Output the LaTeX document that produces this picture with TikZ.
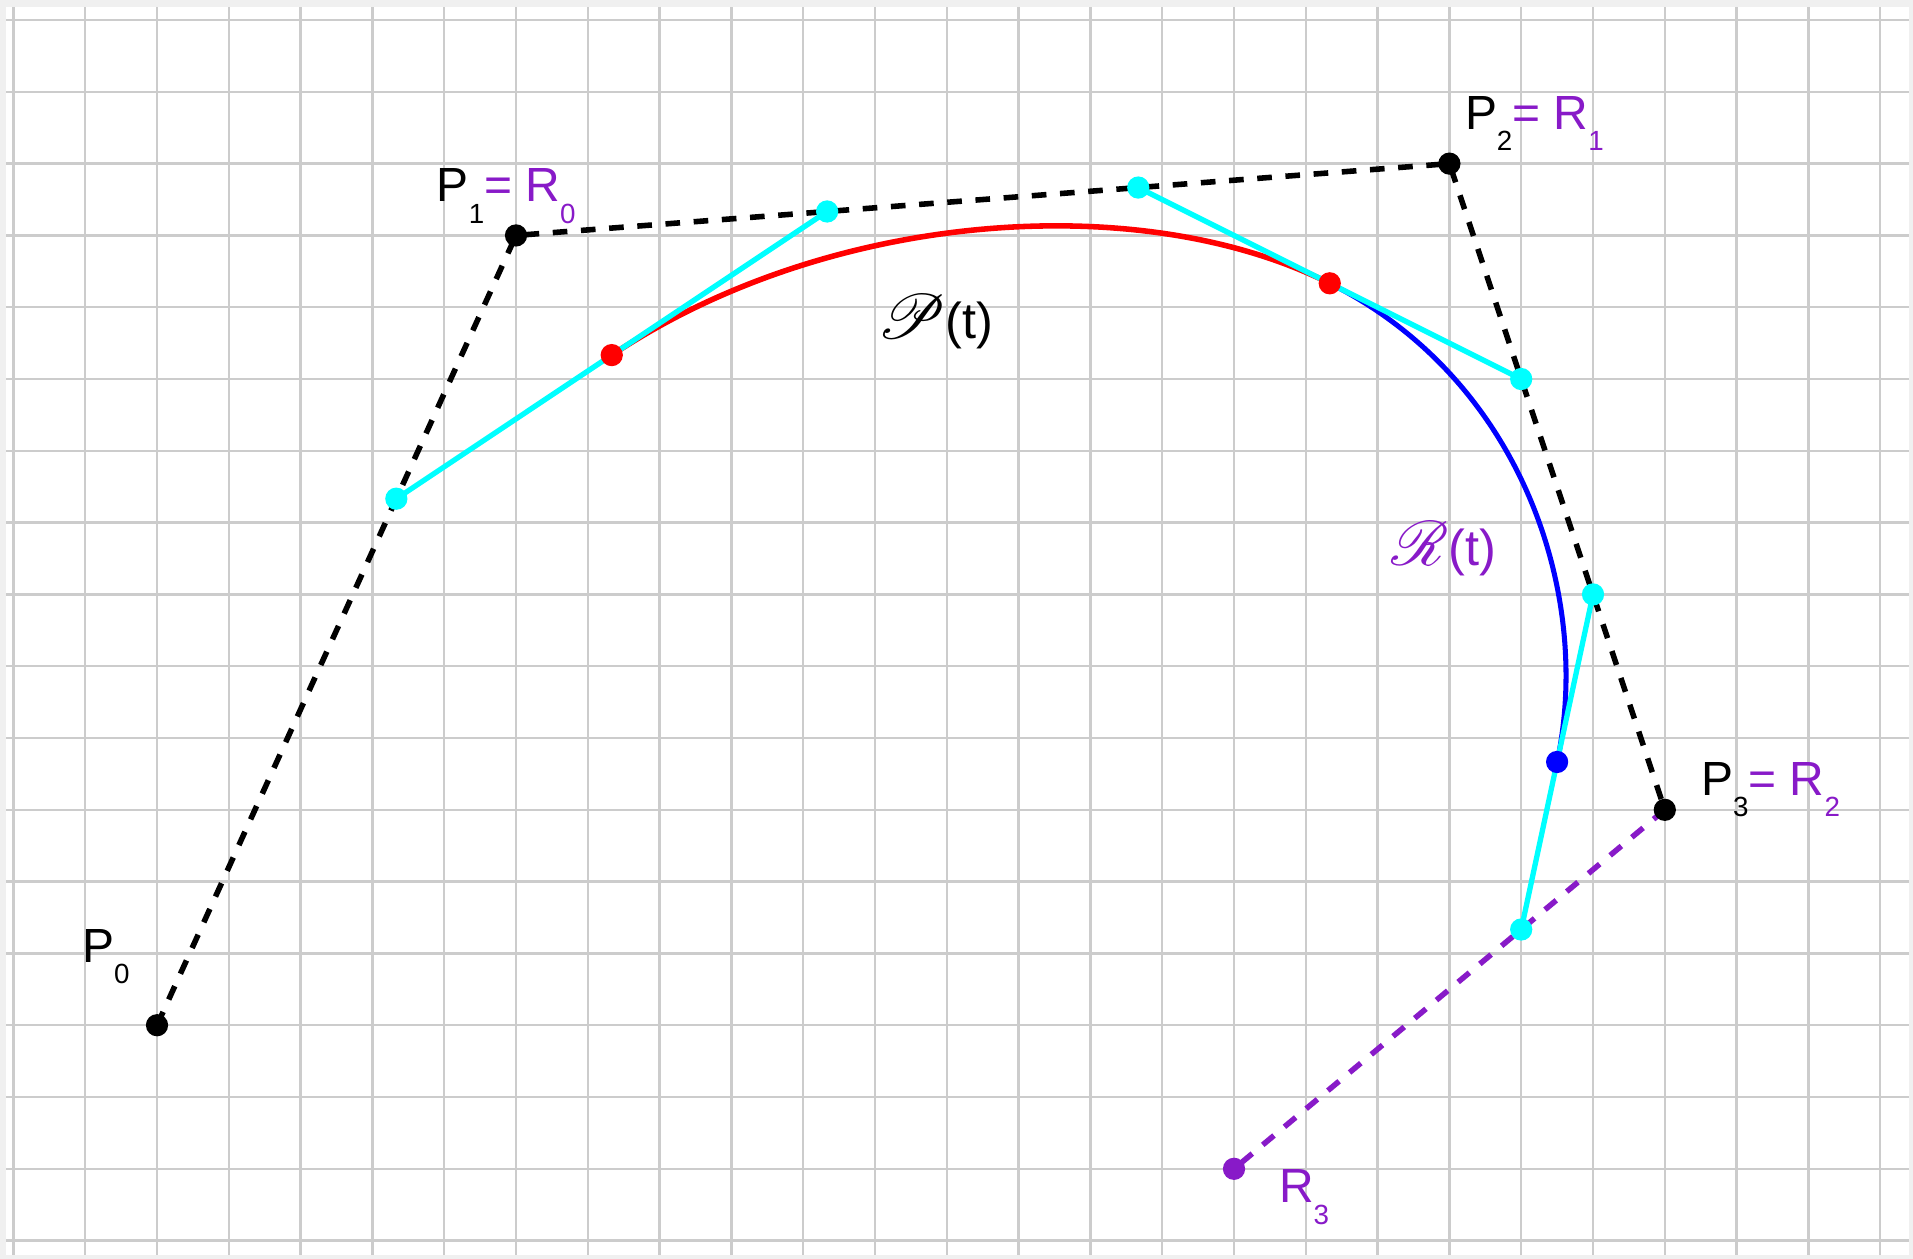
\documentclass[tikz,border=0pt]{standalone}
\usepackage{fontspec}
\setmainfont{Liberation Sans}
\usepackage{mathrsfs}
\usetikzlibrary{calc}
\definecolor{rpurple}{RGB}{136,26,200}
\definecolor{auxcyan}{RGB}{0,255,255}
\newcommand{\lowsub}[1]{\raisebox{-8.5pt}{\fontsize{11}{11}\selectfont #1}}
\newcommand{\bigscr}[1]{{\fontsize{26}{26}\selectfont$\mathscr{#1}$}}

\begin{document}
\begin{tikzpicture}[
    x=1cm,
    y=-1cm,
    gridline/.style={draw=black!20, line width=0.9pt},
    ctrl/.style={draw=black, line width=2.2pt, dash pattern=on 5.8pt off 5.4pt},
    ctrlR/.style={ctrl, draw=rpurple},
    aux/.style={draw=auxcyan, line width=2.1pt},
    pcurve/.style={draw=red, line width=2.2pt},
    rcurve/.style={draw=blue, line width=2pt},
    dot/.style={circle, inner sep=0pt, minimum size=0.31cm},
    lbl/.style={anchor=base west, inner sep=0pt, font=\fontsize{19}{19}\selectfont},
    clbl/.style={inner sep=0pt, font=\fontsize{20}{20}\selectfont}
  ]
    % Page and drawing area, one grid step = 1cm, y runs downwards.
    \useasboundingbox (-0.187,-0.279) rectangle (26.457,17.252);
    \fill[black!6] (-0.187,-0.279) rectangle (26.457,17.252);
    \fill[white] (-0.103,-0.181) rectangle (26.40,17.196);
    \foreach \k in {0,...,26}
      \draw[gridline] (\k,-0.181) -- (\k,17.196);
    \foreach \j in {0,...,17}
      \draw[gridline] (-0.103,\j) -- (26.40,\j);

    % Control points: R0=P1, R1=P2, R2=P3.
    \coordinate (P0) at (2,14);
    \coordinate (P1) at (7,3);
    \coordinate (P2) at (20,2);
    \coordinate (P3) at (23,11);
    \coordinate (R3) at (17,16);

    % Thirds of the control legs and the joints.
    \coordinate (Q0) at ($(P0)!2/3!(P1)$);
    \coordinate (Q1) at ($(P1)!1/3!(P2)$);
    \coordinate (Q2) at ($(P1)!2/3!(P2)$);
    \coordinate (Q3) at ($(P2)!1/3!(P3)$);
    \coordinate (Q4) at ($(P2)!2/3!(P3)$);
    \coordinate (Q5) at ($(P3)!1/3!(R3)$);
    \coordinate (B0) at ($(Q0)!.5!(Q1)$);
    \coordinate (B1) at ($(Q2)!.5!(Q3)$);
    \coordinate (B2) at ($(Q4)!.5!(Q5)$);

    % Control polygons.
    \draw[ctrl] (P0) -- (P1) -- (P2) -- (P3);
    \draw[ctrlR] (P3) -- (R3);

    % Curve pieces.
    \draw[pcurve] (B0) .. controls (Q1) and (Q2) .. (B1);
    \draw[rcurve] (B1) .. controls (Q3) and (Q4) .. (B2);

    % Tangent legs.
    \draw[aux] (Q0) -- (Q1);
    \draw[aux] (Q2) -- (Q3);
    \draw[aux] (Q4) -- (Q5);

    % Points.
    \foreach \q in {Q0,Q1,Q2,Q3,Q4,Q5}
      \node[dot, fill=auxcyan] (d\q) at (\q) {};
    \node[dot, fill=red] (dB0) at (B0) {};
    \node[dot, fill=red] (dB1) at (B1) {};
    \node[dot, fill=blue] (dB2) at (B2) {};
    \foreach \p in {P0,P1,P2,P3}
      \node[dot, fill=black] (d\p) at (\p) {};
    \node[dot, fill=rpurple] (dR3) at (R3) {};

    % Labels.
    \node[lbl] (lP0) at (0.95,13.12) {P\lowsub{0}};
    \node[lbl] (lP1) at (5.89,2.53) {P\lowsub{1}\textcolor{rpurple}{= R\lowsub{0}}};
    \node[lbl] (lP2) at (20.21,1.52) {P\lowsub{2}\textcolor{rpurple}{= R\lowsub{1}}};
    \node[lbl] (lP3) at (23.50,10.8) {P\lowsub{3}\textcolor{rpurple}{= R\lowsub{2}}};
    \node[lbl, rpurple] (lR3) at (17.62,16.47) {R\lowsub{3}};
    \node[clbl] (lPt) at (12.84,4.2) {\bigscr{P}(t)};
    \node[clbl, rpurple] (lRt) at (19.92,7.37) {\bigscr{R}(t)};
  \end{tikzpicture}
\end{document}
